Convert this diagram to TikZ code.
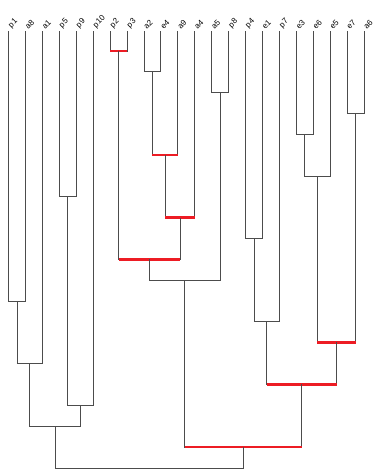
\documentclass[tikz,border=0pt]{standalone}
\usepackage{fontspec}
\setmainfont{Liberation Sans}
\usepackage{tikz}
\usetikzlibrary{calc}

\definecolor{cutred}{RGB}{237,28,36}
\tikzset{
  link/.style={draw=black!70,line width=0.75pt},
  cut/.style={draw=cutred,line width=2.6pt},
  lab/.style={anchor=south west,inner sep=0pt,font=\fontsize{8}{9.5}\selectfont}
}

\begin{document}
\begin{tikzpicture}[x=1pt,y=-1pt]
  \useasboundingbox (0,0) rectangle (373,469);
  % leaves
  \foreach \t [count=\i from 0] in {p1,a8,a1,p5,p9,p10,p2,p3,a2,e4,a9,a4,a5,p8,p4,e1,p7,e3,e6,e5,e7,a6}{
    \coordinate (\t) at ({8.5+16.93*\i},31);
    \node[lab] (\t-lab) at ({7.3+16.93*\i},29.5) {\rotatebox{45}{\t}};
  }
  % merges: name/left/right/height/bar style
  \foreach \m/\a/\b/\h/\s in {m1/p2/p3/51/cut, m2/a2/e4/71.7/link, m3/a5/p8/92.3/link,
      m4/e7/a6/113.7/link, m5/e3/e6/134/link, m6/m2/a9/155/cut, m7/m5/e5/176.3/link,
      m8/p5/p9/196.7/link, m9/m6/a4/217.7/cut, m10/p4/e1/238.3/link, m11/m1/m9/259.3/cut,
      m12/m11/m3/280.3/link, m13/p1/a8/301.3/link, m14/m10/p7/321.7/link, m15/m7/m4/342.3/cut,
      m16/m13/a1/363.3/link, m17/m14/m15/384.3/cut, m18/m8/p10/405/link, m19/m16/m18/426/link,
      m20/m12/m17/447/cut, m21/m19/m20/468/link}{
    \path ($(\a)!0.5!(\b)$) coordinate (mid);
    \coordinate (\m) at (mid |- 0,\h);
    \draw[link] (\a) |- (\m) -| (\b);
    \draw[\s] (\a |- \m) -- (\b |- \m);
  }
\end{tikzpicture}
\end{document}
